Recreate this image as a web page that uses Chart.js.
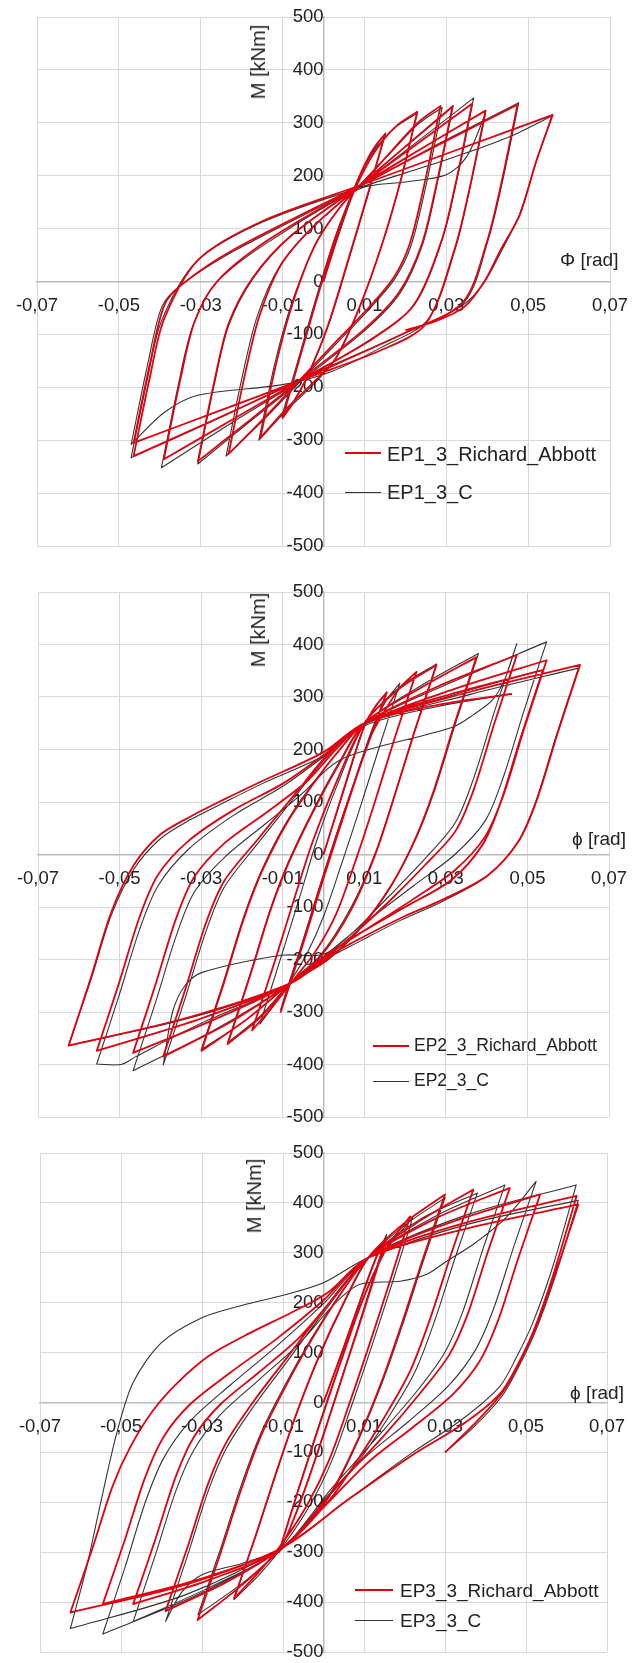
<!DOCTYPE html>
<html><head><meta charset="utf-8">
<script src="https://cdn.jsdelivr.net/npm/chart.js@4.4.1/dist/chart.umd.min.js"></script>
<style>
html,body{margin:0;padding:0;background:#fff;}
body{width:632px;height:1663px;position:relative;overflow:hidden;font-family:"Liberation Sans",Arial,sans-serif;color:#222;}
canvas{position:absolute;}
.t{position:absolute;white-space:nowrap;line-height:1;font-size:19px;transform:translateY(-50%);}
.r{font-size:20px;transform:translate(-50%,-50%) rotate(-90deg);}
.ln{position:absolute;height:0;}
</style></head><body>
<canvas id="c1" width="663" height="619" style="left:-8px;top:-28px"></canvas>
<canvas id="c2" width="661" height="615" style="left:-7px;top:547px"></canvas>
<canvas id="c3" width="657" height="589" style="left:-5px;top:1108px"></canvas>

<div class="t r" style="left:258px;top:62px;">M [kNm]</div>
<div class="t" style="left:560px;top:259px;">Φ [rad]</div>
<div class="ln" style="left:345px;top:452px;width:36px;border-top:2px solid #e3000f"></div>
<div class="t" style="left:387px;top:454px;font-size:20px;">EP1_3_Richard_Abbott</div>
<div class="ln" style="left:345px;top:491.5px;width:36px;border-top:1px solid #333"></div>
<div class="t" style="left:387px;top:492px;font-size:20px;">EP1_3_C</div>

<div class="t r" style="left:258px;top:630px;">M [kNm]</div>
<div class="t" style="left:572px;top:838px;">ϕ [rad]</div>
<div class="ln" style="left:373px;top:1045px;width:36px;border-top:2px solid #e3000f"></div>
<div class="t" style="left:414px;top:1046px;font-size:17.5px;">EP2_3_Richard_Abbott</div>
<div class="ln" style="left:373px;top:1080.5px;width:36px;border-top:1px solid #333"></div>
<div class="t" style="left:414px;top:1081px;font-size:17.5px;">EP2_3_C</div>

<div class="t r" style="left:254px;top:1196px;">M [kNm]</div>
<div class="t" style="left:570px;top:1392px;">ϕ [rad]</div>
<div class="ln" style="left:355px;top:1589px;width:38px;border-top:2px solid #e3000f"></div>
<div class="t" style="left:400px;top:1590px;font-size:19px;">EP3_3_Richard_Abbott</div>
<div class="ln" style="left:355px;top:1619.5px;width:38px;border-top:1px solid #333"></div>
<div class="t" style="left:400px;top:1620px;font-size:19px;">EP3_3_C</div>

<script>
// ---------- DATA (rotation phi [rad], moment M [kNm]; each inner array = one half-cycle) ----------
const phiTicks = [-0.07,-0.05,-0.03,-0.01,0.01,0.03,0.05,0.07];
const mTicks = [-500,-400,-300,-200,-100,0,100,200,300,400,500];
const seriesNames = [["EP1_3_Richard_Abbott","EP1_3_C"],["EP2_3_Richard_Abbott","EP2_3_C"],["EP3_3_Richard_Abbott","EP3_3_C"]];

const ep1_RA = [
[[0,0],[0.004,100],[0.008,185],[0.011,235],[0.013,260],[0.015,278]],
[[0.015,278],[0.011,170],[0.006,40],[0.001,-85],[-0.004,-180],[-0.0075,-230],[-0.010,-258]],
[[-0.010,-258],[-0.006,-150],[-0.0015,-30],[0.003,85],[0.008,180],[0.0125,245],[0.0175,292],[0.0229,321]],
[[0.0229,321],[0.019,195],[0.0145,75],[0.009,-45],[0.003,-145],[-0.003,-195],[-0.009,-240],[-0.0154,-295]],
[[-0.0154,-295],[-0.0114,-150],[-0.0075,-40],[-0.002,70],[0.004,140],[0.010,190],[0.017,250],[0.023,300],[0.0286,332]],
[[0.0286,332],[0.0246,182],[0.0211,72],[0.0172,8],[0.011,-50],[0.003,-114],[-0.006,-188],[-0.015,-262],[-0.0232,-326]],
[[-0.0232,-326],[-0.0192,-176],[-0.0157,-66],[-0.0105,30],[-0.003,100],[0.009,182],[0.020,255],[0.0315,330]],
[[0.0315,330],[0.0275,180],[0.024,70],[0.0185,-20],[0.010,-90],[-0.006,-188],[-0.018,-262],[-0.0307,-340]],
[[-0.0307,-340],[-0.0267,-190],[-0.0232,-80],[-0.0172,8],[-0.008,86],[0.009,182],[0.023,261],[0.0363,336]],
[[0.0363,336],[0.0323,186],[0.0288,76],[0.022,-45],[0.012,-108],[-0.006,-188],[-0.022,-260],[-0.039,-336]],
[[-0.039,-336],[-0.035,-186],[-0.0315,-76],[-0.026,0],[-0.014,76],[0.009,182],[0.025,256],[0.0396,323]],
[[0.0396,323],[0.0356,173],[0.0321,63],[0.025,-80],[0.014,-130],[-0.006,-188],[-0.026,-246],[-0.0464,-305]],
[[-0.0464,-305],[-0.0424,-155],[-0.0389,-45],[-0.0345,-5],[-0.022,60],[0.009,182],[0.029,262],[0.0474,334]],
[[0.0474,334],[0.0434,184],[0.0399,74],[0.034,-40],[0.020,-97],[-0.006,-188],[-0.026,-259],[-0.0464,-330]],
[[-0.0464,-330],[-0.0424,-180],[-0.0389,-70],[-0.0305,42],[-0.015,114],[0.009,182],[0.033,250],[0.056,315]],
[[0.056,315],[0.052,228],[0.048,127],[0.0433,60],[0.0393,0],[0.0344,-48],[0.0274,-75],[0.020,-92]]
];
const ep1_C = [
[[0,0],[0.004,95],[0.008,182],[0.0112,236],[0.0133,262],[0.0152,281]],
[[0.0152,281],[0.0112,172],[0.0062,42],[0.0012,-83],[-0.0038,-178],[-0.0074,-228],[-0.0102,-255]],
[[-0.0102,-255],[-0.0062,-148],[-0.0017,-28],[0.0028,83],[0.0078,182],[0.0123,247],[0.0173,290],[0.0229,318]],
[[0.0229,318],[0.0189,192],[0.0144,72],[0.0088,-48],[0.0028,-148],[-0.0032,-200],[-0.0092,-245],[-0.0158,-300]],
[[-0.0158,-300],[-0.0118,-152],[-0.0078,-42],[-0.0022,66],[0.0038,138],[0.0098,190],[0.0172,250],[0.0232,298],[0.029,329]],
[[0.029,329],[0.025,180],[0.0214,68],[0.0174,5],[0.0112,-52],[0.0032,-117],[-0.0058,-190],[-0.0152,-266],[-0.0238,-330]],
[[-0.0238,-330],[-0.0198,-178],[-0.0162,-66],[-0.0108,28],[-0.0032,98],[0.0088,180],[0.0198,254],[0.0317,333]],
[[0.0317,333],[0.0277,182],[0.0242,70],[0.0187,-22],[0.0102,-92],[-0.0058,-190],[-0.0182,-266],[-0.0307,-345]],
[[-0.0307,-345],[-0.0267,-195],[-0.0232,-84],[-0.0172,6],[-0.008,86],[0.009,182],[0.023,265],[0.0367,347]],
[[0.0367,347],[0.0327,196],[0.0292,84],[0.0224,-42],[0.0122,-106],[-0.006,-190],[-0.022,-265],[-0.0396,-352]],
[[-0.0396,-352],[-0.0356,-200],[-0.0321,-88],[-0.0265,-5],[-0.014,72],[0.009,176],[0.020,188],[0.030,202],[0.035,236],[0.0396,318]],
[[0.0396,318],[0.0356,170],[0.0322,62],[0.0255,-72],[0.014,-125],[0.002,-170],[-0.010,-195],[-0.0307,-215],[-0.039,-248],[-0.047,-308]],
[[-0.047,-308],[-0.043,-158],[-0.0395,-48],[-0.035,-8],[-0.022,57],[0.009,180],[0.029,264],[0.0477,338]],
[[0.0477,338],[0.0437,188],[0.0402,78],[0.0345,-38],[0.0205,-95],[-0.006,-186],[-0.026,-260],[-0.047,-333]],
[[-0.047,-333],[-0.043,-183],[-0.0395,-73],[-0.031,38],[-0.015,112],[0.009,178],[0.030,230],[0.045,272],[0.0558,313]],
[[0.0558,313],[0.0518,222],[0.0478,125],[0.0433,55],[0.039,-5],[0.034,-45],[0.026,-78]]
];

const ep2_RA = [
[[0,0],[0.005,125],[0.010,245],[0.013,285],[0.0155,308]],
[[0.0155,308],[0.0095,180],[0.004,55],[-0.001,-65],[-0.0055,-180],[-0.0085,-250],[-0.0105,-300]],
[[-0.0105,-300],[-0.005,-170],[0.000,-45],[0.005,75],[0.0095,180],[0.012,232],[0.0155,280],[0.019,320],[0.0228,348]],
[[0.0228,348],[0.0173,218],[0.0123,93],[0.0075,-20],[0.003,-115],[-0.002,-185],[-0.008,-245],[-0.0125,-290],[-0.0175,-335]],
[[-0.0175,-335],[-0.012,-205],[-0.007,-80],[-0.0025,28],[0.003,135],[0.010,250],[0.0185,315],[0.0277,361]],
[[0.0277,361],[0.0222,231],[0.0172,106],[0.0127,0],[0.0068,-105],[-0.0008,-195],[-0.008,-245],[-0.0155,-310],[-0.0235,-361]],
[[-0.0235,-361],[-0.018,-231],[-0.013,-106],[-0.0085,-15],[-0.002,90],[0.004,175],[0.010,250],[0.024,318],[0.0375,376]],
[[0.0375,376],[0.032,246],[0.027,121],[0.0225,30],[0.0165,-60],[0.009,-140],[0.001,-200],[-0.008,-245],[-0.019,-315],[-0.0299,-374]],
[[-0.0299,-374],[-0.0244,-244],[-0.0194,-119],[-0.0149,-29],[-0.0089,61],[-0.002,140],[0.004,200],[0.010,250],[0.028,320],[0.0474,380]],
[[0.0474,380],[0.0419,250],[0.0369,125],[0.0324,45],[0.0249,-20],[0.016,-90],[0.007,-155],[0.000,-200],[-0.008,-245],[-0.023,-320],[-0.0393,-385]],
[[-0.0393,-385],[-0.0338,-255],[-0.0288,-130],[-0.0243,-50],[-0.016,30],[-0.007,115],[0.001,190],[0.010,250],[0.032,315],[0.0547,370]],
[[0.0547,370],[0.0492,240],[0.0442,115],[0.0397,35],[0.0322,-30],[0.022,-85],[0.011,-140],[0.001,-190],[-0.008,-245],[-0.027,-315],[-0.0467,-378]],
[[-0.0467,-378],[-0.0412,-248],[-0.0362,-123],[-0.0317,-43],[-0.0242,22],[-0.014,80],[-0.004,140],[0.003,200],[0.010,250],[0.031,305],[0.0538,351]],
[[0.0538,351],[0.0483,221],[0.0433,96],[0.0388,16],[0.0313,-49],[0.020,-100],[0.010,-145],[0.001,-190],[-0.008,-245],[-0.031,-315],[-0.0556,-374]],
[[-0.0556,-374],[-0.0501,-244],[-0.0451,-119],[-0.0406,-39],[-0.0331,26],[-0.022,85],[-0.010,135],[0.001,195],[0.010,250],[0.036,310],[0.0629,361]],
[[0.0629,361],[0.0574,231],[0.0524,106],[0.0479,26],[0.0404,-39],[0.0295,-85],[0.0195,-119],[0.009,-160],[0.001,-195],[-0.008,-245],[-0.033,-310],[-0.0625,-364]],
[[-0.0625,-364],[-0.057,-234],[-0.052,-109],[-0.0465,-20],[-0.040,38],[-0.0327,72],[-0.0246,104],[-0.015,140],[0.000,195],[0.010,250],[0.028,285],[0.0462,306]]
];
const ep2_C = [
[[0,0],[0.005,122],[0.010,243],[0.013,285],[0.0155,310]],
[[0.0155,310],[0.0095,182],[0.004,58],[-0.001,-62],[-0.0055,-175],[-0.0085,-245],[-0.0105,-295]],
[[-0.0105,-295],[-0.005,-165],[0.000,-42],[0.005,78],[0.0093,180],[0.0125,250],[0.0155,295],[0.0187,326]],
[[0.0187,326],[0.0135,200],[0.0085,78],[0.004,-28],[0.000,-118],[-0.004,-188],[-0.008,-240],[-0.012,-285],[-0.0156,-323]],
[[-0.0156,-323],[-0.0104,-195],[-0.0056,-75],[-0.0015,30],[0.0035,135],[0.010,248],[0.0185,318],[0.0277,363]],
[[0.0277,363],[0.0222,233],[0.0172,108],[0.0127,3],[0.0068,-100],[-0.0008,-192],[-0.008,-243],[-0.0155,-308],[-0.0235,-358]],
[[-0.0235,-358],[-0.018,-228],[-0.013,-103],[-0.0085,-12],[-0.002,93],[0.004,178],[0.010,250],[0.024,322],[0.038,383]],
[[0.038,383],[0.0325,253],[0.0275,128],[0.023,36],[0.017,-55],[0.0095,-137],[0.0015,-198],[-0.008,-245],[-0.019,-315],[-0.030,-372]],
[[-0.030,-372],[-0.0245,-242],[-0.0195,-117],[-0.015,-27],[-0.009,63],[-0.002,140],[0.004,180],[0.0106,199],[0.0318,243],[0.0367,266],[0.0415,295],[0.0445,335],[0.0474,402]],
[[0.0474,402],[0.0419,272],[0.0369,147],[0.0324,62],[0.0249,-8],[0.016,-80],[0.007,-150],[0.000,-190],[-0.0102,-192],[-0.0299,-225],[-0.034,-250],[-0.037,-300],[-0.0393,-401]],
[[-0.0393,-401],[-0.0338,-271],[-0.0288,-146],[-0.0243,-62],[-0.016,22],[-0.007,110],[0.001,188],[0.010,250],[0.032,330],[0.0547,405]],
[[0.0547,405],[0.0492,275],[0.0442,150],[0.0397,65],[0.0322,0],[0.022,-60],[0.011,-125],[0.001,-188],[-0.008,-245],[-0.027,-335],[-0.0467,-412]],
[[-0.0467,-412],[-0.0412,-282],[-0.0362,-157],[-0.0317,-72],[-0.0242,-5],[-0.014,60],[-0.004,125],[0.003,190],[0.010,248],[0.031,302],[0.0538,352]],
[[0.0538,352],[0.0483,222],[0.0433,97],[0.0388,17],[0.0313,-48],[0.020,-100],[0.010,-145],[0.001,-190],[-0.008,-245],[-0.031,-325],[-0.046,-385],[-0.0496,-400],[-0.0556,-399]],
[[-0.0556,-399],[-0.0501,-268],[-0.0451,-143],[-0.0406,-60],[-0.0331,10],[-0.022,75],[-0.010,130],[0.001,192],[0.010,248],[0.036,305],[0.0625,355]],
[[0.0625,355],[0.057,225],[0.052,100],[0.0475,22],[0.040,-42],[0.029,-90],[0.019,-125],[0.009,-165],[0.001,-198],[-0.008,-245],[-0.033,-312],[-0.0625,-364]],
[[-0.0625,-364],[-0.057,-238],[-0.052,-115],[-0.0465,-28],[-0.040,30],[-0.0327,66],[-0.0246,98],[-0.015,135],[0.000,188],[0.010,245],[0.028,282],[0.0462,306]]
];

const ep3_RA = [
[[0,0],[0.005,110],[0.010,225],[0.013,290],[0.0156,330]],
[[0.0156,330],[0.0106,200],[0.0056,75],[0.0006,-50],[-0.0044,-170],[-0.0084,-255],[-0.011,-300]],
[[-0.011,-300],[-0.006,-170],[-0.001,-45],[0.004,75],[0.0085,180],[0.012,250],[0.016,315],[0.0214,373]],
[[0.0214,373],[0.0164,243],[0.0114,118],[0.0064,-2],[0.0014,-115],[-0.004,-205],[-0.010,-280],[-0.016,-340],[-0.0221,-393]],
[[-0.0221,-393],[-0.0166,-263],[-0.0116,-138],[-0.0066,-20],[-0.001,95],[0.005,200],[0.011,290],[0.020,360],[0.030,417]],
[[0.030,417],[0.0245,287],[0.0195,162],[0.0145,45],[0.009,-65],[0.003,-165],[-0.003,-235],[-0.010,-290],[-0.020,-365],[-0.0311,-436]],
[[-0.0311,-436],[-0.0256,-306],[-0.0206,-181],[-0.0156,-70],[-0.0095,30],[-0.003,125],[0.004,215],[0.011,290],[0.024,365],[0.037,427]],
[[0.037,427],[0.0315,297],[0.0265,172],[0.0215,65],[0.015,-30],[0.008,-120],[0.001,-200],[-0.010,-290],[-0.024,-360],[-0.039,-418]],
[[-0.039,-418],[-0.0335,-288],[-0.0285,-163],[-0.024,-80],[-0.017,5],[-0.009,90],[0.000,185],[0.011,290],[0.028,370],[0.046,430]],
[[0.046,430],[0.0405,300],[0.0355,175],[0.031,95],[0.024,20],[0.014,-75],[0.003,-170],[-0.010,-290],[-0.028,-355],[-0.047,-404]],
[[-0.047,-404],[-0.0415,-274],[-0.0365,-149],[-0.032,-69],[-0.0255,-4],[-0.016,60],[-0.006,130],[0.003,215],[0.011,290],[0.031,360],[0.0535,417]],
[[0.0535,417],[0.048,287],[0.043,162],[0.0385,82],[0.032,17],[0.022,-50],[0.011,-120],[0.000,-210],[-0.010,-290],[-0.031,-355],[-0.0545,-404]],
[[-0.0545,-404],[-0.049,-274],[-0.044,-149],[-0.0395,-69],[-0.033,-4],[-0.023,60],[-0.012,125],[0.000,205],[0.011,290],[0.035,360],[0.0625,414]],
[[0.0625,414],[0.0567,255],[0.0518,142],[0.0477,72],[0.0436,18],[0.035,-40],[0.022,-105],[0.006,-195],[-0.010,-290],[-0.034,-365],[-0.0625,-421]],
[[-0.0625,-421],[-0.057,-291],[-0.052,-166],[-0.0475,-86],[-0.042,-15],[-0.036,40],[-0.028,95],[-0.018,140],[-0.008,180],[0.001,220],[0.011,290],[0.036,350],[0.0629,397]],
[[0.0629,397],[0.0574,262],[0.0524,150],[0.0481,75],[0.044,18],[0.037,-45],[0.030,-100]]
];
const ep3_C = [
[[0,0],[0.005,112],[0.010,228],[0.013,292],[0.0156,337]],
[[0.0156,337],[0.0106,205],[0.0056,78],[0.0006,-48],[-0.0044,-168],[-0.0084,-255],[-0.011,-300]],
[[-0.011,-300],[-0.006,-168],[-0.001,-42],[0.004,78],[0.0085,182],[0.012,252],[0.016,312],[0.022,370]],
[[0.022,370],[0.017,240],[0.012,115],[0.007,-5],[0.002,-118],[-0.0035,-208],[-0.0095,-282],[-0.0155,-342],[-0.0221,-395]],
[[-0.0221,-395],[-0.0166,-265],[-0.0116,-140],[-0.0066,-22],[-0.001,93],[0.005,198],[0.011,288],[0.020,355],[0.030,410]],
[[0.030,410],[0.0245,280],[0.0195,155],[0.0145,40],[0.009,-68],[0.003,-168],[-0.003,-238],[-0.010,-292],[-0.020,-362],[-0.031,-425]],
[[-0.031,-425],[-0.0255,-295],[-0.0205,-170],[-0.0155,-62],[-0.0095,35],[-0.003,128],[0.004,216],[0.011,290],[0.024,368],[0.038,420]],
[[0.038,420],[0.0325,290],[0.0275,165],[0.0225,60],[0.016,-30],[0.008,-125],[0.000,-200],[-0.010,-290],[-0.020,-322],[-0.030,-345],[-0.035,-380],[-0.039,-439]],
[[-0.039,-439],[-0.0335,-305],[-0.0285,-178],[-0.024,-92],[-0.017,-5],[-0.009,82],[0.000,180],[0.011,290],[0.028,375],[0.0448,436]],
[[0.0448,436],[0.0393,306],[0.0343,180],[0.0298,98],[0.023,22],[0.013,-72],[0.002,-172],[-0.010,-290],[-0.028,-370],[-0.047,-439]],
[[-0.047,-439],[-0.0415,-305],[-0.0365,-178],[-0.032,-95],[-0.0255,-25],[-0.016,45],[-0.006,118],[0.003,200],[0.009,237],[0.0189,243],[0.0255,257],[0.0304,283],[0.037,317],[0.045,370],[0.0525,443]],
[[0.0525,443],[0.047,313],[0.042,188],[0.0375,105],[0.031,35],[0.021,-38],[0.010,-112],[-0.001,-205],[-0.010,-290],[-0.031,-385],[-0.0545,-464]],
[[-0.0545,-464],[-0.049,-330],[-0.044,-200],[-0.0395,-112],[-0.033,-38],[-0.023,35],[-0.012,110],[0.000,198],[0.011,290],[0.035,375],[0.0624,436]],
[[0.0624,436],[0.0566,272],[0.0517,160],[0.0476,90],[0.0435,32],[0.034,-35],[0.022,-100],[0.006,-195],[-0.010,-290],[-0.034,-385],[-0.0625,-453]],
[[-0.0625,-453],[-0.0585,-330],[-0.055,-200],[-0.051,-60],[-0.047,40],[-0.040,120],[-0.030,170],[-0.020,195],[-0.010,215],[0.000,240],[0.011,290],[0.036,358],[0.0629,405]],
[[0.0629,405],[0.0571,250],[0.0522,140],[0.0481,70],[0.044,12],[0.037,-50],[0.030,-100]]
];

// ---------- RENDERING ----------
const FONT = "'Liberation Sans', Arial, sans-serif";
function toPts(branches){const o=[];branches.forEach(b=>b.forEach(p=>o.push({x:p[0],y:p[1]})));return o;}
function fmtPhi(v){return (Math.round(v*100)/100).toFixed(2).replace('.',',');}

function makeChart(id, ra, c, names){
  new Chart(document.getElementById(id), {
    type:'scatter',
    data:{datasets:[
      {label:names[0], data:toPts(ra), showLine:true, borderColor:'#e3000f', borderWidth:1.8, pointRadius:0, tension:0.3, fill:false},
      {label:names[1], data:toPts(c), showLine:true, borderColor:'rgba(30,30,30,0.9)', borderWidth:1.1, pointRadius:0, tension:0.3, fill:false}
    ]},
    options:{
      responsive:false, animation:false, events:[],
      layout:{padding:45},
      plugins:{legend:{display:false}, tooltip:{enabled:false}},
      elements:{line:{borderJoinStyle:'round'}},
      scales:{
        x:{type:'linear', min:-0.07, max:0.07, position:{y:0},
           afterBuildTicks:s=>{s.ticks = phiTicks.map(v=>({value:v}));},
           grid:{color:'#d9d9d9', lineWidth:1, drawTicks:false},
           border:{display:true, color:'#bcbcbc', width:1.5},
           ticks:{padding:13, autoSkip:false, maxRotation:0, minRotation:0, color:'#222', font:{size:18.5, family:FONT}, callback:v=>fmtPhi(v)}},
        y:{type:'linear', min:-500, max:500, position:{x:0},
           afterBuildTicks:s=>{s.ticks = mTicks.map(v=>({value:v}));},
           grid:{color:'#d9d9d9', lineWidth:1, drawTicks:false},
           border:{display:true, color:'#bcbcbc', width:1.5},
           ticks:{padding:16, autoSkip:false, color:'#222', font:{size:18.5, family:FONT}, callback:v=>String(v)}}
      }
    }
  });
}
makeChart('c1', ep1_RA, ep1_C, seriesNames[0]);
makeChart('c2', ep2_RA, ep2_C, seriesNames[1]);
makeChart('c3', ep3_RA, ep3_C, seriesNames[2]);
</script>
</body></html>
